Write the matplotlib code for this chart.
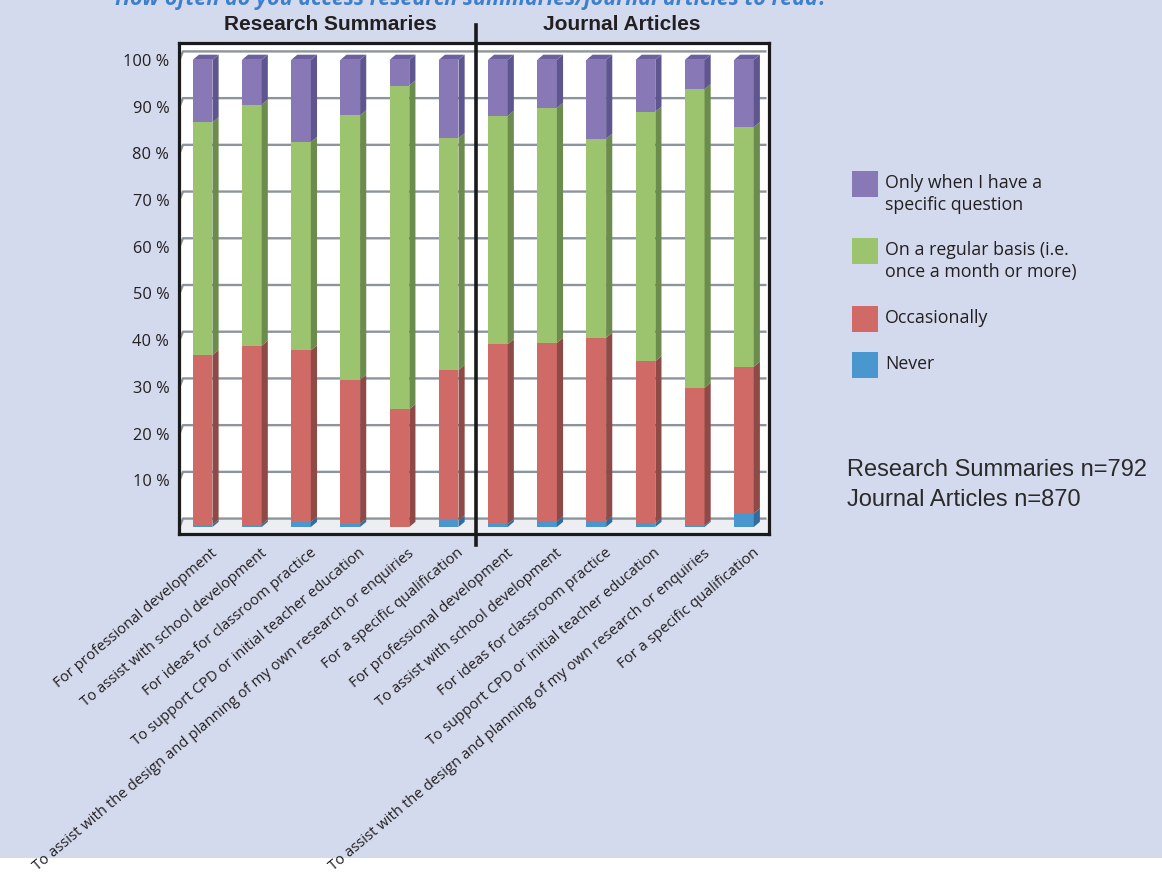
import matplotlib
matplotlib.use("Agg")
import matplotlib.pyplot as plt
from matplotlib.patches import Polygon, Rectangle
from matplotlib.lines import Line2D

# ---- data -------------------------------------------------------------
categories = [
    "For professional development",
    "To assist with school development",
    "For ideas for classroom practice",
    "To support CPD or initial teacher education",
    "To assist with the design and planning of my own research or enquiries",
    "For a specific qualification",
]
groups = ["Research Summaries", "Journal Articles"]
group_n = [792, 870]

series_names = [
    "Never",
    "Occasionally",
    "On a regular basis (i.e.\nonce a month or more)",
    "Only when I have a\nspecific question",
]

# percentages per category, Research Summaries then Journal Articles
never = [0.5, 0.5, 1.1, 0.7, 0.0, 1.4,
         0.6, 1.2, 1.3, 0.8, 0.3, 2.9]
occasionally = [36.3, 38.3, 36.7, 30.8, 25.2, 32.2,
                38.5, 38.2, 39.2, 34.7, 29.5, 31.4]
regular = [49.8, 51.6, 44.6, 56.6, 69.3, 49.6,
           48.9, 50.3, 42.6, 53.4, 63.9, 51.3]
specific = [13.4, 9.6, 17.6, 11.9, 5.5, 16.8,
            12.0, 10.3, 16.9, 11.1, 6.3, 14.4]

ytick_vals = [10, 20, 30, 40, 50, 60, 70, 80, 90, 100]

# ---- style ------------------------------------------------------------
BG = "#d3daed"
front_cols = ["#4a96cf", "#d06a66", "#9cc46f", "#8879b6"]
side_cols = ["#306d9e", "#8f4a48", "#6b8c4c", "#5f5690"]
top_col = "#6c619e"
GRID = "#8d949b"
TXT = "#231f20"
BODY_FONT = ["Open Sans", "DejaVu Sans"]

fig = plt.figure(figsize=(11.62, 8.72), dpi=100, facecolor=BG)
# white strip along the bottom edge
fig.patches.append(Rectangle((0, 0), 1, 14 / 872, transform=fig.transFigure,
                             facecolor="white", edgecolor="none", zorder=-1))

ax = fig.add_axes([179 / 1162, 1 - 534 / 872, 590 / 1162, 491 / 872])
ax.set_facecolor("white")
ax.set_xlim(-0.48, 11.51)
ax.set_ylim(-1.5, 103.6)

n = len(never)
dx, dy = 0.125, 1.1      # depth offset of the 3D boxes
bw = 0.40                # front face width
back = 1.8               # back-wall offset of the gridlines

# floor
ax.add_patch(Polygon([(-0.48, -1.5), (11.51, -1.5), (11.51, back), (-0.40, back), (-0.48, 0)],
                     closed=True, facecolor="#eceef1", edgecolor="none", zorder=0))

# gridlines on back/left wall
for v in [0] + ytick_vals:
    ax.add_line(Line2D([-0.47, -0.40, 11.46], [v, v + back, v + back],
                       color=GRID, lw=1.7, zorder=1, solid_capstyle="butt"))

# stacked 3D bars
stack = [never, occasionally, regular, specific]
for i in range(n):
    base = 0.0
    x0, x1 = i - bw / 2, i + bw / 2
    for s, vals in enumerate(stack):
        h = vals[i]
        if h <= 0:
            continue
        top = base + h
        ax.add_patch(Rectangle((x0, base), bw, h, facecolor=front_cols[s],
                               edgecolor="none", zorder=3))
        ax.add_patch(Polygon([(x1, base), (x1 + dx, base + dy), (x1 + dx, top + dy), (x1, top)],
                             closed=True, facecolor=side_cols[s], edgecolor="none", zorder=3))
        base = top
    ax.add_patch(Polygon([(x0, base), (x0 + dx, base + dy), (x1 + dx, base + dy), (x1, base)],
                         closed=True, facecolor=top_col, edgecolor="none", zorder=3))

# axes frame & ticks
for sp in ax.spines.values():
    sp.set_linewidth(2.3)
    sp.set_color("#1a1a1a")
ax.set_xticks([])
ax.set_yticks(ytick_vals)
ax.set_yticklabels([f"{v} %" for v in ytick_vals], fontsize=11.8, color=TXT,
                   family=BODY_FONT)
ax.tick_params(axis="y", length=0, pad=7)

# category labels (rotated)
labels = categories * len(groups)
for i, lab in enumerate(labels):
    ax.text(i + 0.17, -4.0, lab, rotation=40, rotation_mode="anchor",
            ha="right", va="top", fontsize=10.7, color=TXT,
            family=BODY_FONT, clip_on=False)

# group divider and headers
fig.add_artist(Line2D([476 / 1162, 476 / 1162], [1 - 545 / 872, 1 - 25 / 872],
                      transform=fig.transFigure, color="#1a1a1a", lw=2.6))
hdr_font = ["Liberation Sans Narrow", "Liberation Sans", "DejaVu Sans"]
fig.text(330 / 1162, 1 - 25 / 872, groups[0], ha="center", va="center",
         fontsize=15, fontweight="bold", color=TXT, family=hdr_font)
fig.text(622 / 1162, 1 - 25 / 872, groups[1], ha="center", va="center",
         fontsize=15, fontweight="bold", color=TXT, family=hdr_font)

# title (runs off the top edge)
fig.text(115 / 1162, 1 - 5 / 872,
         "How often do you access research summaries/journal articles to read?",
         ha="left", va="baseline", fontsize=15.5, fontweight="bold", style="italic",
         color="#3d7fcc", family=BODY_FONT)

# legend, drawn top to bottom
leg_items = [(series_names[3], front_cols[3], 171),
             (series_names[2], front_cols[2], 238),
             (series_names[1], front_cols[1], 306),
             (series_names[0], front_cols[0], 352)]
for text, col, ytop in leg_items:
    fig.patches.append(Rectangle((852 / 1162, 1 - (ytop + 26) / 872), 26 / 1162, 26 / 872,
                                 transform=fig.transFigure, facecolor=col, edgecolor="none"))
    for k, line in enumerate(text.split("\n")):
        fig.text(885 / 1162, 1 - (ytop + 12 + 22 * k) / 872, line, ha="left", va="center",
                 fontsize=12.8, color=TXT, family=BODY_FONT)

# sample sizes
for k, (g, nn) in enumerate(zip(groups, group_n)):
    fig.text(847 / 1162, 1 - (470 + 30 * k) / 872, f"{g} n={nn}", ha="left", va="center",
             fontsize=17, color="#2a2a2a", family=["Liberation Sans", "DejaVu Sans"])

fig.savefig("out.png", dpi=100, facecolor=BG)
